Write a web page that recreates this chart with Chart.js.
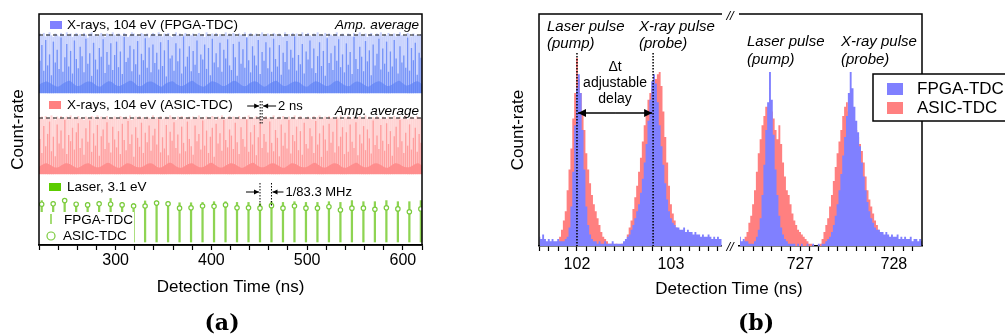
<!DOCTYPE html>
<html>
<head>
<meta charset="utf-8">
<script src="https://cdn.jsdelivr.net/npm/chart.js@4.4.1/dist/chart.umd.min.js"></script>
<style>
body { margin: 0; background: #fff; width: 1005px; height: 335px; overflow: hidden; position: relative; font-family: "Liberation Sans", Arial, sans-serif; }
canvas { position: absolute; top: 0; }
.lbl { position: absolute; white-space: nowrap; color: #000; transform: translate(-50%, -50%); }
.panel { font-family: "DejaVu Serif", serif; font-weight: bold; font-size: 22px; }
</style>
</head>
<body>
<canvas id="chartA" width="440" height="335" style="left:0px"></canvas>
<canvas id="chartB1" width="222" height="335" style="left:500px"></canvas>
<canvas id="chartB2" width="283" height="335" style="left:722px"></canvas>
<div class="lbl" style="left:729px;top:289px;font-size:17px">Detection Time (ns)</div>
<div class="lbl panel" style="left:222px;top:322px">(a)</div>
<div class="lbl panel" style="left:756px;top:322px">(b)</div>
<script>
// ---------- panel (a): pulse trains vs. detection time ----------
const xrayStart = 221, xrayPeriod = 2;      // ns, X-ray bunch every 2 ns
const floorStart = 220, floorStep = 4;      // ns, histogram floor sampled every 4 ns
const laserStart = 222.8, laserPeriod = 12; // ns, 1/83.3 MHz
const timeMinA = 220, timeMaxA = 620;
const ampAverage = 1.0;

// X-rays, FPGA-TDC (amplitude relative to the average)
const fpgaXrayLight = [
  1.02,0.98,1.03,0.97,1.01,1.04,0.99,0.96,1.02,1.00,0.97,1.03,1.01,0.98,1.04,0.99,1.02,0.96,1.00,1.03,
  0.99,1.01,0.97,1.03,1.00,0.95,1.02,1.04,0.98,1.01,0.97,1.00,1.03,0.99,0.96,1.02,1.01,0.98,1.04,1.00,
  0.97,1.02,1.00,0.98,1.03,1.01,0.96,0.99,1.04,1.02,0.98,1.00,0.97,1.03,1.01,0.99,1.02,0.95,1.00,1.03,
  1.01,0.98,1.04,0.99,0.97,1.02,1.00,1.03,0.98,0.96,1.01,1.04,0.99,1.02,0.97,1.00,1.03,0.98,1.01,0.99,
  1.02,0.97,1.00,1.03,0.99,1.01,0.96,1.04,1.00,0.98,1.02,0.99,1.03,0.97,1.01,1.00,0.98,1.04,0.99,1.02,
  0.98,1.03,1.01,0.97,1.02,1.00,0.99,1.04,0.96,1.01,1.03,0.98,1.00,1.02,0.97,1.01,1.04,0.99,0.98,1.02,
  1.00,0.97,1.03,1.01,0.98,1.02,0.99,0.96,1.04,1.00,1.01,0.98,1.03,0.99,1.02,0.97,1.00,1.04,0.98,1.01,
  1.03,0.99,0.97,1.02,1.00,1.04,0.98,1.01,0.99,1.03,0.96,1.02,1.00,0.98,1.01,1.04,0.97,1.00,1.02,0.99,
  0.98,1.02,1.00,0.97,1.03,0.99,1.01,1.04,0.98,1.00,1.02,0.96,1.01,1.03,0.99,0.98,1.02,1.00,1.04,0.97,
  1.01,0.99,1.03,0.98,1.00,1.02,0.97,1.01,1.04,0.99,1.00,0.98,1.03,1.01,0.97,1.02,0.99,1.00,0.98,1.01
];
const fpgaXrayPeak = [
  0.55,0.82,0.38,0.91,0.47,0.66,0.30,0.88,0.52,0.74,0.41,0.95,0.36,0.61,0.84,0.45,0.72,0.33,0.90,0.58,
  0.42,0.79,0.63,0.35,0.93,0.50,0.68,0.29,0.86,0.57,0.40,0.77,0.62,0.92,0.34,0.70,0.48,0.85,0.39,0.65,
  0.88,0.44,0.71,0.32,0.96,0.53,0.60,0.81,0.37,0.75,0.49,0.89,0.31,0.67,0.56,0.94,0.43,0.78,0.35,0.83,
  0.51,0.69,0.40,0.87,0.46,0.73,0.28,0.91,0.59,0.64,0.38,0.85,0.54,0.76,0.33,0.97,0.45,0.62,0.80,0.37,
  0.72,0.48,0.90,0.34,0.66,0.57,0.83,0.41,0.77,0.30,0.93,0.52,0.68,0.44,0.86,0.36,0.74,0.59,0.92,0.47,
  0.39,0.84,0.61,0.29,0.88,0.50,0.75,0.43,0.95,0.56,0.35,0.80,0.64,0.47,0.91,0.32,0.70,0.55,0.87,0.42,
  0.78,0.36,0.93,0.58,0.45,0.82,0.31,0.69,0.53,0.89,0.40,0.74,0.60,0.97,0.38,0.65,0.49,0.84,0.33,0.71,
  0.57,0.90,0.42,0.76,0.34,0.63,0.87,0.46,0.72,0.29,0.94,0.51,0.68,0.39,0.81,0.55,0.92,0.44,0.66,0.35,
  0.85,0.48,0.70,0.32,0.96,0.58,0.41,0.79,0.62,0.37,0.89,0.54,0.73,0.30,0.83,0.47,0.67,0.93,0.40,0.76,
  0.50,0.88,0.36,0.71,0.45,0.91,0.59,0.33,0.80,0.52,0.64,0.43,0.95,0.38,0.77,0.56,0.86,0.31,0.69,0.60
];
const fpgaXrayFloor = [
  0.14,0.18,0.20,0.17,0.13,0.11,0.15,0.19,0.21,0.16,0.12,0.14,0.18,0.20,0.18,0.13,0.11,0.16,0.20,0.19,
  0.14,0.12,0.15,0.19,0.21,0.17,0.12,0.13,0.18,0.20,0.18,0.14,0.11,0.16,0.19,0.20,0.15,0.12,0.14,0.18,
  0.21,0.17,0.13,0.11,0.15,0.20,0.19,0.16,0.12,0.14,0.18,0.21,0.18,0.13,0.12,0.17,0.20,0.19,0.14,0.11,
  0.15,0.19,0.21,0.16,0.12,0.14,0.18,0.20,0.18,0.13,0.11,0.16,0.20,0.19,0.15,0.12,0.14,0.19,0.21,0.17,
  0.13,0.12,0.17,0.20,0.18,0.14,0.11,0.15,0.19,0.20,0.16,0.12,0.14,0.18,0.21,0.17,0.13,0.15,0.19,0.20,0.15
];

// X-rays, ASIC-TDC
const asicXrayLight = [
  0.99,1.02,0.97,1.03,1.00,0.98,1.04,1.01,0.96,1.02,0.99,1.03,0.98,1.00,1.02,0.97,1.04,0.99,1.01,0.98,
  1.03,0.99,1.01,0.96,1.02,1.00,0.98,1.03,1.01,0.97,1.04,0.99,1.02,0.98,1.00,1.03,0.97,1.01,0.99,1.02,
  1.00,0.97,1.03,1.01,0.98,1.02,0.99,1.04,0.96,1.00,1.02,0.98,1.03,0.99,1.01,0.97,1.02,1.00,0.98,1.04,
  0.98,1.01,0.99,1.03,0.97,1.00,1.02,0.98,1.04,1.01,0.99,0.96,1.02,1.00,1.03,0.98,1.01,0.99,1.02,0.97,
  1.02,0.98,1.00,1.04,0.99,1.01,0.97,1.02,1.00,0.98,1.03,1.01,0.96,1.02,0.99,1.04,1.00,0.98,1.01,1.03,
  0.97,1.02,1.01,0.99,1.03,0.98,1.00,1.02,0.97,1.04,1.01,0.99,1.00,1.03,0.98,1.02,0.96,1.01,1.03,0.99,
  1.01,0.99,1.04,0.98,1.00,1.02,0.97,1.03,1.01,0.99,1.02,0.98,1.00,1.04,0.97,1.01,1.03,0.99,1.00,0.98,
  1.02,1.00,0.97,1.03,0.99,1.01,1.04,0.98,1.00,1.02,0.97,1.03,0.99,1.01,0.98,1.02,1.00,1.04,0.96,1.01,
  0.99,1.03,1.00,0.98,1.02,0.97,1.01,1.03,0.99,1.00,1.04,0.98,1.02,0.97,1.01,0.99,1.03,1.00,0.98,1.02,
  1.00,0.98,1.02,1.01,0.97,1.03,0.99,1.00,1.02,0.98,1.01,1.04,0.97,0.99,1.02,1.00,0.98,1.03,1.01,0.99
];
const asicXrayPeak = [
  0.62,0.37,0.85,0.49,0.71,0.93,0.40,0.66,0.31,0.88,0.54,0.77,0.45,0.96,0.35,0.69,0.58,0.82,0.43,0.74,
  0.90,0.46,0.63,0.34,0.81,0.57,0.95,0.39,0.72,0.50,0.87,0.32,0.67,0.79,0.44,0.92,0.55,0.38,0.84,0.61,
  0.47,0.76,0.35,0.89,0.60,0.42,0.94,0.53,0.70,0.30,0.83,0.64,0.48,0.91,0.37,0.73,0.56,0.86,0.41,0.68,
  0.80,0.52,0.97,0.38,0.65,0.45,0.87,0.33,0.75,0.59,0.92,0.46,0.70,0.36,0.84,0.55,0.40,0.93,0.62,0.49,
  0.34,0.86,0.58,0.71,0.43,0.95,0.50,0.77,0.37,0.66,0.82,0.30,0.89,0.54,0.72,0.41,0.96,0.60,0.47,0.79,
  0.68,0.44,0.91,0.56,0.35,0.83,0.62,0.48,0.97,0.39,0.74,0.52,0.87,0.33,0.65,0.90,0.46,0.71,0.57,0.38,
  0.93,0.55,0.40,0.78,0.64,0.31,0.88,0.50,0.73,0.45,0.96,0.36,0.69,0.58,0.84,0.42,0.76,0.34,0.91,0.53,
  0.45,0.81,0.67,0.37,0.94,0.52,0.72,0.30,0.86,0.61,0.41,0.89,0.55,0.75,0.38,0.97,0.49,0.66,0.83,0.35,
  0.74,0.39,0.88,0.57,0.46,0.92,0.33,0.70,0.54,0.85,0.42,0.79,0.63,0.36,0.95,0.51,0.68,0.44,0.87,0.59,
  0.41,0.90,0.53,0.76,0.32,0.67,0.84,0.47,0.96,0.58,0.37,0.73,0.50,0.88,0.43,0.64,0.82,0.39,0.71,0.55
];
const asicXrayFloor = [
  0.13,0.17,0.19,0.16,0.12,0.12,0.16,0.19,0.18,0.14,0.11,0.14,0.18,0.19,0.15,0.12,0.13,0.17,0.20,0.17,
  0.13,0.11,0.15,0.19,0.18,0.14,0.12,0.13,0.17,0.19,0.17,0.12,0.12,0.16,0.20,0.18,0.13,0.11,0.14,0.18,
  0.19,0.15,0.12,0.13,0.17,0.20,0.16,0.12,0.12,0.16,0.19,0.18,0.14,0.11,0.14,0.18,0.20,0.15,0.12,0.13,
  0.17,0.19,0.17,0.13,0.11,0.15,0.19,0.18,0.14,0.12,0.13,0.17,0.20,0.16,0.12,0.12,0.16,0.19,0.18,0.13,
  0.11,0.14,0.18,0.20,0.15,0.12,0.13,0.17,0.19,0.17,0.13,0.11,0.15,0.19,0.18,0.14,0.12,0.13,0.17,0.19,0.15
];

// Laser, 3.1 eV (relative peak heights)
const laserFpga = [1.15,1.12,1.19,1.10,1.09,1.12,1.21,1.10,1.07,1.14,1.14,1.12,1.09,1.09,1.10,1.12,1.12,
                   1.10,1.10,1.07,1.12,1.10,1.12,1.10,1.10,1.12,1.10,1.15,1.12,1.12,1.15,1.12,1.12,1.15];
const laserAsic = [1.05,1.06,1.15,1.05,1.03,1.06,1.05,1.03,1.00,1.00,1.08,1.06,0.94,0.95,1.00,0.99,1.03,
                   0.95,0.95,0.94,1.01,0.94,1.00,0.94,0.94,0.98,0.89,0.94,0.94,0.91,0.95,0.92,0.84,0.92];

// ---------- panel (b): histograms around 102-103 ns and 727-728 ns ----------
const binWidth = 0.02;
const leftStart = 101.60, rightStart = 726.36;
const laserMark = 102.0, xrayMark = 102.81;
const fpgaLeft = [
  0.04,0.03,0.05,0.03,0.02,0.03,0.02,0.03,0.02,0.02,0.03,0.02,0.02,0.02,0.03,0.04,0.08,0.17,0.32,0.52,
  0.68,0.74,0.66,0.50,0.33,0.17,0.09,0.05,0.03,0.02,0.02,0.01,0.02,0.01,0.01,0.02,0.01,0.01,0.01,0.02,
  0.01,0.01,0.01,0.01,0.01,0.02,0.03,0.04,0.05,0.07,0.09,0.12,0.15,0.18,0.23,0.29,0.36,0.44,0.54,0.63,
  0.71,0.74,0.70,0.62,0.52,0.43,0.35,0.27,0.20,0.15,0.12,0.10,0.09,0.08,0.08,0.07,0.07,0.08,0.06,0.07,
  0.06,0.06,0.05,0.06,0.05,0.05,0.04,0.05,0.04,0.04,0.05,0.04,0.03,0.04,0.03,0.04,0.03,0.03
];
const asicLeft = [
  0,0,0.01,0,0,0.01,0,0.01,0.01,0.01,0.02,0.04,0.07,0.11,0.15,0.24,0.33,0.42,0.55,0.66,
  0.81,0.72,0.66,0.58,0.50,0.40,0.33,0.27,0.22,0.18,0.15,0.12,0.09,0.06,0.04,0.03,0.02,0.01,0.01,0.01,
  0,0.01,0,0,0.01,0.01,0.02,0.05,0.08,0.11,0.16,0.21,0.26,0.32,0.38,0.45,0.52,0.58,0.63,0.66,
  0.68,0.70,0.72,0.74,0.75,0.69,0.58,0.47,0.36,0.26,0.18,0.14,0.11,0.08,0.07,0.05,0.04,0.03,0.03,0.02,
  0.02,0.01,0.01,0,0.01,0,0,0,0.01,0,0,0,0,0,0,0,0,0
];
const fpgaRight = [
  0.04,0.02,0.03,0.02,0.02,0.01,0.01,0.01,0.02,0.04,0.07,0.12,0.22,0.35,0.50,0.62,0.75,0.63,0.48,0.33,
  0.22,0.13,0.08,0.05,0.03,0.02,0.01,0.01,0.01,0.01,0,0.01,0,0.01,0,0,0.01,0,0,0.01,
  0,0,0.01,0,0.01,0.01,0.02,0.03,0.04,0.06,0.09,0.13,0.18,0.24,0.31,0.39,0.47,0.56,0.66,0.75,
  0.68,0.60,0.54,0.49,0.43,0.36,0.30,0.24,0.19,0.15,0.12,0.10,0.08,0.07,0.07,0.06,0.06,0.05,0.06,0.05,
  0.04,0.05,0.04,0.04,0.05,0.03,0.04,0.03,0.04,0.03,0.03,0.04,0.02,0.03,0.03,0.02,0.03,0.02
];
const asicRight = [
  0,0.01,0.02,0.04,0.06,0.10,0.13,0.18,0.24,0.32,0.40,0.46,0.52,0.56,0.60,0.60,0.57,0.58,0.55,0.50,
  0.46,0.52,0.44,0.36,0.30,0.24,0.22,0.18,0.14,0.11,0.09,0.07,0.06,0.05,0.04,0.03,0.02,0.01,0.01,0,
  0,0,0,0.01,0.03,0.06,0.09,0.12,0.17,0.22,0.28,0.34,0.40,0.45,0.50,0.56,0.60,0.62,0.58,0.60,
  0.55,0.52,0.50,0.47,0.44,0.41,0.36,0.30,0.24,0.20,0.17,0.14,0.11,0.09,0.07,0.05,0.04,0.03,0.02,0.01,
  0,0,0,0.01,0,0,0,0,0,0,0,0,0,0,0,0,0,0
];

Chart.defaults.font.family = '"Liberation Sans", Arial, sans-serif';
Chart.defaults.color = '#000';

const FONT = '"Liberation Sans", Arial, sans-serif';
const BLUE = '#8080ff', PINK = '#ff8080', GREEN = '#5ccc00';

// vertical layout of the three strips in panel (a), in px of the plot frame
const strips = {
  fpga: { base: 152, scale: 58 },
  asic: { base: 71, scale: 56 },
  laser: { base: 3, scale: 36 }
};

function pulseBars(vals, s) {
  return vals.map((v, i) => ({ x: xrayStart + i * xrayPeriod, y: [s.base, s.base + v * s.scale] }));
}
function floorLine(vals, s) {
  return vals.map((v, i) => ({ x: floorStart + i * floorStep, y: s.base + v * s.scale }));
}
function avgLine(s) {
  return [{ x: timeMinA, y: s.base + ampAverage * s.scale }, { x: timeMaxA, y: s.base + ampAverage * s.scale }];
}

function arrow(ctx, x1, y, x2, head) {
  ctx.beginPath(); ctx.moveTo(x1, y); ctx.lineTo(x2, y); ctx.stroke();
  const d = x2 > x1 ? 1 : -1;
  ctx.beginPath();
  ctx.moveTo(x2, y);
  ctx.lineTo(x2 - d * head, y - head * 0.5);
  ctx.lineTo(x2 - d * head, y + head * 0.5);
  ctx.closePath(); ctx.fill();
}
function dotted(ctx, x, y1, y2, w) {
  ctx.save();
  ctx.setLineDash([1.5, 1.5]);
  ctx.lineWidth = w;
  ctx.beginPath(); ctx.moveTo(x, y1); ctx.lineTo(x, y2); ctx.stroke();
  ctx.restore();
}

const annotA = {
  id: 'annotA',
  afterDatasetsDraw(chart) {
    const { ctx, chartArea: a, scales: { x } } = chart;
    ctx.save();
    ctx.fillStyle = '#000'; ctx.strokeStyle = '#000';
    ctx.textBaseline = 'middle';

    // strip labels
    ctx.font = '13.5px ' + FONT;
    ctx.fillStyle = BLUE; ctx.fillRect(50, 21, 12, 8);
    ctx.fillStyle = PINK; ctx.fillRect(49, 101, 12, 8);
    ctx.fillStyle = GREEN; ctx.fillRect(49, 183, 12, 8);
    ctx.fillStyle = '#000';
    ctx.fillText('X-rays, 104 eV (FPGA-TDC)', 67, 25);
    ctx.fillText('X-rays, 104 eV (ASIC-TDC)', 67, 105);
    ctx.fillText('Laser, 3.1 eV', 67, 187);
    ctx.font = 'italic 13.5px ' + FONT;
    ctx.textAlign = 'right';
    ctx.fillText('Amp. average', a.right - 3, 25);
    ctx.fillText('Amp. average', a.right - 3, 111);
    ctx.textAlign = 'left';

    // 2 ns spacing of the X-ray bunches
    ctx.font = '13px ' + FONT;
    ctx.lineWidth = 1;
    const p1 = x.getPixelForValue(451), p2 = x.getPixelForValue(453);
    dotted(ctx, p1, 101, 124, 1); dotted(ctx, p2, 101, 124, 1);
    arrow(ctx, p1 - 13, 106, p1 - 1, 5);
    arrow(ctx, p2 + 14, 106, p2 + 1, 5);
    ctx.fillText('2 ns', p2 + 16, 106);

    // laser period
    const l1 = x.getPixelForValue(laserStart + 19 * laserPeriod);
    const l2 = x.getPixelForValue(laserStart + 20 * laserPeriod);
    dotted(ctx, l1, 183, 207, 1); dotted(ctx, l2, 183, 207, 1);
    arrow(ctx, l1 - 14, 192, l1 - 1, 5);
    arrow(ctx, l2 + 12, 192, l2 + 1, 5);
    ctx.fillText('1/83.3 MHz', l2 + 14, 192);

    // legend of the laser strip
    ctx.fillStyle = '#fff';
    ctx.fillRect(a.left + 1, 212, 94, a.bottom - 213);
    ctx.fillStyle = '#000';
    ctx.font = '13.5px ' + FONT;
    ctx.fillText('FPGA-TDC', 64, 220);
    ctx.fillText('ASIC-TDC', 63, 236);
    ctx.strokeStyle = '#8ed452'; ctx.lineWidth = 1.6;
    ctx.beginPath(); ctx.moveTo(51, 214); ctx.lineTo(51, 224); ctx.stroke();
    ctx.strokeStyle = '#7acb3c'; ctx.lineWidth = 1.2;
    ctx.beginPath(); ctx.arc(51, 236, 4, 0, Math.PI * 2); ctx.stroke();

    // frame
    ctx.strokeStyle = '#000'; ctx.lineWidth = 1.5;
    ctx.strokeRect(a.left, a.top, a.right - a.left, a.bottom - a.top);
    ctx.restore();
  }
};

new Chart(document.getElementById('chartA'), {
  type: 'bar',
  data: {
    datasets: [
      { data: pulseBars(fpgaXrayLight, strips.fpga), backgroundColor: '#c9d3fd', barThickness: 1.4, grouped: false, order: 6 },
      { type: 'line', data: floorLine(fpgaXrayFloor, strips.fpga), fill: { value: strips.fpga.base },
        backgroundColor: '#86a0f8', borderColor: 'transparent', borderWidth: 0, pointRadius: 0, tension: 0.35, order: 5 },
      { data: pulseBars(fpgaXrayPeak, strips.fpga), backgroundColor: 'rgba(90,125,245,0.75)', barThickness: 0.7, grouped: false, order: 4 },
      { data: pulseBars(asicXrayLight, strips.asic), backgroundColor: '#ffd4d4', barThickness: 1.4, grouped: false, order: 6 },
      { type: 'line', data: floorLine(asicXrayFloor, strips.asic), fill: { value: strips.asic.base },
        backgroundColor: '#ff9090', borderColor: 'transparent', borderWidth: 0, pointRadius: 0, tension: 0.35, order: 5 },
      { data: pulseBars(asicXrayPeak, strips.asic), backgroundColor: 'rgba(255,140,140,0.75)', barThickness: 0.7, grouped: false, order: 4 },
      { data: laserFpga.map((v, i) => ({ x: laserStart + i * laserPeriod, y: [strips.laser.base, strips.laser.base + v * strips.laser.scale] })),
        backgroundColor: '#8ed452', barThickness: 1.6, grouped: false, order: 2 },
      { type: 'line', showLine: false,
        data: laserAsic.map((v, i) => ({ x: laserStart + i * laserPeriod, y: strips.laser.base + v * strips.laser.scale })),
        pointRadius: 2.2, pointBorderWidth: 1.2, pointBorderColor: '#7acb3c', pointBackgroundColor: '#fff', order: 1 },
      { type: 'line', data: avgLine(strips.fpga), borderColor: '#111', borderWidth: 1, borderDash: [4, 3], pointRadius: 0, order: 0 },
      { type: 'line', data: avgLine(strips.asic), borderColor: '#111', borderWidth: 1, borderDash: [4, 3], pointRadius: 0, order: 0 }
    ]
  },
  options: {
    responsive: false, animation: false, devicePixelRatio: 1,
    layout: { padding: { left: 0, top: 14, right: 18, bottom: 37 } },
    plugins: { legend: { display: false }, tooltip: { enabled: false } },
    scales: {
      x: {
        type: 'linear', min: timeMinA, max: timeMaxA, offset: false,
        afterFit: s => { s.height = 53; },
        grid: { display: true, offset: false, drawOnChartArea: false, tickLength: 5, color: '#000', tickWidth: 1.2 },
        border: { display: true, color: '#000', width: 1.5 },
        ticks: { stepSize: 20, includeBounds: false, autoSkip: false, maxRotation: 0, padding: 1,
                 font: { size: 16 }, color: '#000',
                 callback: v => (v % 100 === 0 ? String(v) : '') },
        title: { display: true, text: 'Detection Time (ns)', font: { size: 17 }, padding: 0, color: '#000' }
      },
      y: {
        min: 0, max: 231,
        afterFit: s => { s.width = 39; },
        grid: { display: false }, border: { display: false },
        ticks: { display: false },
        title: { display: true, text: 'Count-rate', font: { size: 17 }, padding: { top: 8, bottom: 0 }, color: '#000' }
      }
    }
  },
  plugins: [annotA]
});

// ---------- panel (b) ----------
function histData(vals, start) {
  return vals.map((v, i) => ({ x: start + i * binWidth, y: v }));
}
function histSets(fpga, asic, start) {
  return [
    { data: histData(fpga, start), stepped: 'middle', fill: 'origin', backgroundColor: BLUE,
      borderColor: 'transparent', borderWidth: 0, pointRadius: 0, order: 0 },
    { data: histData(asic, start), stepped: 'middle', fill: 'origin', backgroundColor: PINK,
      borderColor: 'transparent', borderWidth: 0, pointRadius: 0, order: 1 }
  ];
}
function xScaleB(min, max) {
  return {
    type: 'linear', min: min, max: max,
    afterFit: s => { s.height = 30; },
    grid: { display: true, drawOnChartArea: false, tickLength: 5, color: '#000', tickWidth: 1.2 },
    border: { display: true, color: '#000', width: 1.5 },
    ticks: { stepSize: 0.1, includeBounds: false, autoSkip: false, maxRotation: 0, padding: 4,
             font: { size: 16 }, color: '#000',
             callback: v => (Math.abs(v - Math.round(v)) < 1e-6 ? String(Math.round(v)) : '') }
  };
}

const annotB1 = {
  id: 'annotB1',
  afterDatasetsDraw(chart) {
    const { ctx, chartArea: a, scales: { x } } = chart;
    ctx.save();
    ctx.strokeStyle = '#000'; ctx.fillStyle = '#000';
    const xl = x.getPixelForValue(laserMark), xr = x.getPixelForValue(xrayMark);
    dotted(ctx, xl, 53, a.bottom, 1.5);
    dotted(ctx, xr, 53, a.bottom, 1.5);
    ctx.lineWidth = 1.5;
    arrow(ctx, (xl + xr) / 2, 113, xr - 1, 8);
    arrow(ctx, (xl + xr) / 2, 113, xl + 1, 8);

    ctx.textBaseline = 'middle';
    ctx.font = 'italic 15px ' + FONT;
    ctx.fillText('Laser pulse', 47, 27);
    ctx.fillText('(pump)', 47, 44);
    ctx.fillText('X-ray pulse', 139, 27);
    ctx.fillText('(probe)', 139, 44);
    ctx.font = '14px ' + FONT;
    ctx.textAlign = 'center';
    const xm = (xl + xr) / 2;
    ctx.fillText('\u0394t', xm, 67);
    ctx.fillText('adjustable', xm, 83);
    ctx.fillText('delay', xm, 99);

    ctx.lineWidth = 1.5;
    ctx.beginPath();
    ctx.moveTo(a.left, a.bottom); ctx.lineTo(a.left, a.top); ctx.lineTo(a.right, a.top);
    ctx.stroke();
    ctx.restore();
  }
};

const annotB2 = {
  id: 'annotB2',
  afterDatasetsDraw(chart) {
    const { ctx, chartArea: a } = chart;
    ctx.save();
    ctx.strokeStyle = '#000'; ctx.fillStyle = '#000'; ctx.lineWidth = 1.5;
    ctx.beginPath();
    ctx.moveTo(a.left, a.top); ctx.lineTo(a.right, a.top); ctx.lineTo(a.right, a.bottom);
    ctx.stroke();

    // axis break marks
    ctx.textBaseline = 'middle'; ctx.textAlign = 'center';
    ctx.font = 'italic 13px ' + FONT;
    ctx.fillText('//', 8, 16);
    ctx.fillText('//', 8, 247);
    ctx.textAlign = 'left';

    ctx.font = 'italic 15px ' + FONT;
    ctx.fillText('Laser pulse', 25, 42);
    ctx.fillText('(pump)', 25, 60);
    ctx.fillText('X-ray pulse', 119, 42);
    ctx.fillText('(probe)', 119, 60);

    // legend
    ctx.fillStyle = '#fff';
    ctx.fillRect(151, 74, 140, 47);
    ctx.strokeRect(151, 74, 140, 47);
    ctx.fillStyle = BLUE; ctx.fillRect(165, 83, 16, 12);
    ctx.fillStyle = PINK; ctx.fillRect(165, 102, 16, 12);
    ctx.fillStyle = '#000';
    ctx.font = '17px ' + FONT;
    ctx.fillText('FPGA-TDC', 195, 89);
    ctx.fillText('ASIC-TDC', 195, 108);
    ctx.restore();
  }
};

new Chart(document.getElementById('chartB1'), {
  type: 'line',
  data: { datasets: histSets(fpgaLeft, asicLeft, leftStart) },
  options: {
    responsive: false, animation: false, devicePixelRatio: 1,
    layout: { padding: { left: 0, top: 14, right: 0, bottom: 59 } },
    plugins: { legend: { display: false }, tooltip: { enabled: false } },
    scales: {
      x: xScaleB(101.596, 103.543),
      y: {
        min: 0, max: 1,
        afterFit: s => { s.width = 39; },
        grid: { display: false }, border: { display: false }, ticks: { display: false },
        title: { display: true, text: 'Count-rate', font: { size: 17 }, padding: { top: 8, bottom: 0 }, color: '#000' }
      }
    }
  },
  plugins: [annotB1]
});

new Chart(document.getElementById('chartB2'), {
  type: 'line',
  data: { datasets: histSets(fpgaRight, asicRight, rightStart) },
  options: {
    responsive: false, animation: false, devicePixelRatio: 1,
    layout: { padding: { left: 17, top: 14, right: 83, bottom: 59 } },
    plugins: { legend: { display: false }, tooltip: { enabled: false } },
    scales: {
      x: xScaleB(726.35, 728.30),
      y: { display: false, min: 0, max: 1 }
    }
  },
  plugins: [annotB2]
});
</script>
</body>
</html>
